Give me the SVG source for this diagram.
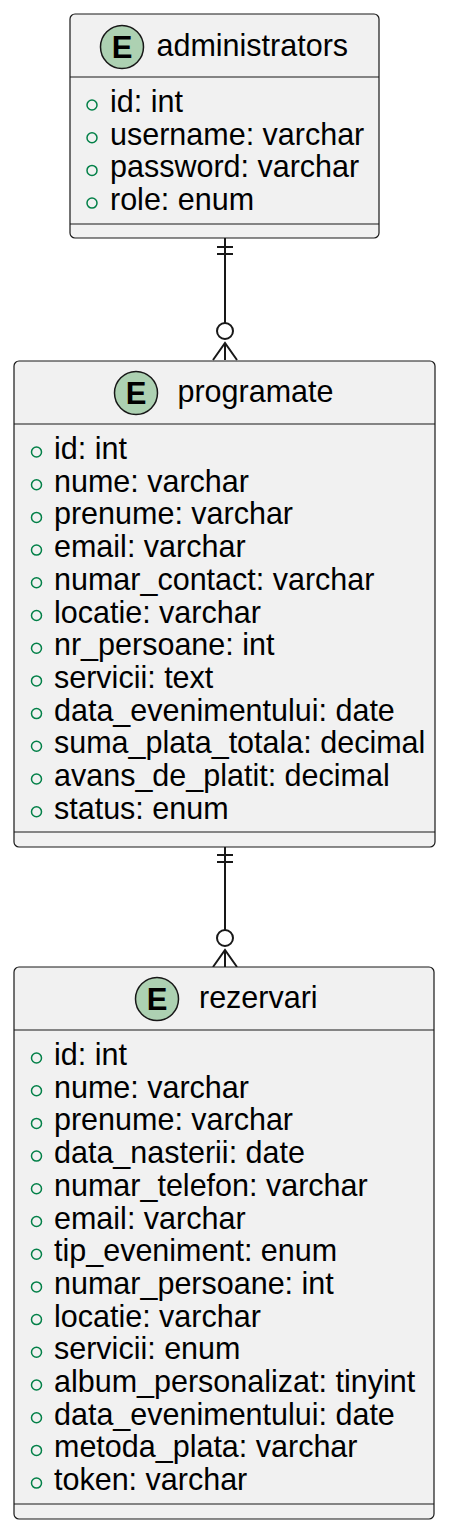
<svg xmlns="http://www.w3.org/2000/svg" width="450" height="1532" viewBox="0 0 450 1532">
<style>
.box{fill:#F1F1F1;stroke:#181818;stroke-width:1.2}
.sep{stroke:#181818;stroke-width:1.2}
.ec{fill:#ADD1B2;stroke:#181818;stroke-width:1.5}
.el{font-family:"Liberation Sans",Arial,sans-serif;font-weight:bold;font-size:31px;fill:#000;text-anchor:middle}
.t{font-family:"Liberation Sans",Arial,sans-serif;font-size:30.5px;fill:#000}
.f{font-family:"Liberation Sans",Arial,sans-serif;font-size:30.5px;fill:#000}
.v{fill:none;stroke:#038048;stroke-width:1.5}
.c{fill:none;stroke:#181818;stroke-width:2}
</style>
<rect width="450" height="1532" fill="#FFFFFF"/>
<g id="connectors">
<line class="c" x1="225" y1="238" x2="225" y2="323"/>
<line class="c" x1="217" y1="247" x2="233" y2="247"/>
<line class="c" x1="217" y1="254" x2="233" y2="254"/>
<circle class="c" cx="225" cy="331" r="8" fill="#FFFFFF"/>
<path class="c" d="M213,360 L225,343 L237,360 M225,343 L225,360"/>
<line class="c" x1="225" y1="847" x2="225" y2="930"/>
<line class="c" x1="217" y1="855" x2="233" y2="855"/>
<line class="c" x1="217" y1="862" x2="233" y2="862"/>
<circle class="c" cx="225" cy="938" r="8" fill="#FFFFFF"/>
<path class="c" d="M213,967 L225,950 L237,967 M225,950 L225,967"/>
</g>
<g id="administrators">
<rect class="box" x="70" y="14" width="309" height="224" rx="5"/>
<circle class="ec" cx="122" cy="47" r="21.5"/>
<text class="el" x="122" y="58">E</text>
<text class="t" x="156.5" y="56">administrators</text>
<line class="sep" x1="70" y1="77" x2="379" y2="77"/>
<circle class="v" cx="92" cy="105" r="5"/><text class="f" x="110" y="112">id: int</text>
<circle class="v" cx="92" cy="137.7" r="5"/><text class="f" x="110" y="144.7">username: varchar</text>
<circle class="v" cx="92" cy="170.4" r="5"/><text class="f" x="110" y="177.4">password: varchar</text>
<circle class="v" cx="92" cy="203.1" r="5"/><text class="f" x="110" y="210.1">role: enum</text>
<line class="sep" x1="70" y1="224" x2="379" y2="224"/>
</g>
<g id="programate">
<rect class="box" x="14" y="361" width="421" height="486" rx="5"/>
<circle class="ec" cx="136" cy="393" r="21.5"/>
<text class="el" x="136" y="404">E</text>
<text class="t" x="177.5" y="402">programate</text>
<line class="sep" x1="14" y1="424" x2="435" y2="424"/>
<circle class="v" cx="36.5" cy="452" r="5"/><text class="f" x="54" y="459">id: int</text>
<circle class="v" cx="36.5" cy="484.7" r="5"/><text class="f" x="54" y="491.7">nume: varchar</text>
<circle class="v" cx="36.5" cy="517.4" r="5"/><text class="f" x="54" y="524.4">prenume: varchar</text>
<circle class="v" cx="36.5" cy="550.1" r="5"/><text class="f" x="54" y="557.1">email: varchar</text>
<circle class="v" cx="36.5" cy="582.8" r="5"/><text class="f" x="54" y="589.8">numar_contact: varchar</text>
<circle class="v" cx="36.5" cy="615.5" r="5"/><text class="f" x="54" y="622.5">locatie: varchar</text>
<circle class="v" cx="36.5" cy="648.2" r="5"/><text class="f" x="54" y="655.2">nr_persoane: int</text>
<circle class="v" cx="36.5" cy="680.9" r="5"/><text class="f" x="54" y="687.9">servicii: text</text>
<circle class="v" cx="36.5" cy="713.6" r="5"/><text class="f" x="54" y="720.6">data_evenimentului: date</text>
<circle class="v" cx="36.5" cy="746.3" r="5"/><text class="f" x="54" y="753.3">suma_plata_totala: decimal</text>
<circle class="v" cx="36.5" cy="779" r="5"/><text class="f" x="54" y="786">avans_de_platit: decimal</text>
<circle class="v" cx="36.5" cy="811.7" r="5"/><text class="f" x="54" y="818.7">status: enum</text>
<line class="sep" x1="14" y1="832" x2="435" y2="832"/>
</g>
<g id="rezervari">
<rect class="box" x="14" y="967" width="420" height="552" rx="5"/>
<circle class="ec" cx="157" cy="999" r="21.5"/>
<text class="el" x="157" y="1010">E</text>
<text class="t" x="199" y="1008">rezervari</text>
<line class="sep" x1="14" y1="1030" x2="434" y2="1030"/>
<circle class="v" cx="36.5" cy="1058" r="5"/><text class="f" x="54" y="1065">id: int</text>
<circle class="v" cx="36.5" cy="1090.7" r="5"/><text class="f" x="54" y="1097.7">nume: varchar</text>
<circle class="v" cx="36.5" cy="1123.4" r="5"/><text class="f" x="54" y="1130.4">prenume: varchar</text>
<circle class="v" cx="36.5" cy="1156.1" r="5"/><text class="f" x="54" y="1163.1">data_nasterii: date</text>
<circle class="v" cx="36.5" cy="1188.8" r="5"/><text class="f" x="54" y="1195.8">numar_telefon: varchar</text>
<circle class="v" cx="36.5" cy="1221.5" r="5"/><text class="f" x="54" y="1228.5">email: varchar</text>
<circle class="v" cx="36.5" cy="1254.2" r="5"/><text class="f" x="54" y="1261.2">tip_eveniment: enum</text>
<circle class="v" cx="36.5" cy="1286.9" r="5"/><text class="f" x="54" y="1293.9">numar_persoane: int</text>
<circle class="v" cx="36.5" cy="1319.6" r="5"/><text class="f" x="54" y="1326.6">locatie: varchar</text>
<circle class="v" cx="36.5" cy="1352.3" r="5"/><text class="f" x="54" y="1359.3">servicii: enum</text>
<circle class="v" cx="36.5" cy="1385" r="5"/><text class="f" x="54" y="1392">album_personalizat: tinyint</text>
<circle class="v" cx="36.5" cy="1417.7" r="5"/><text class="f" x="54" y="1424.7">data_evenimentului: date</text>
<circle class="v" cx="36.5" cy="1450.4" r="5"/><text class="f" x="54" y="1457.4">metoda_plata: varchar</text>
<circle class="v" cx="36.5" cy="1483.1" r="5"/><text class="f" x="54" y="1490.1">token: varchar</text>
<line class="sep" x1="14" y1="1504" x2="434" y2="1504"/>
</g>
</svg>
